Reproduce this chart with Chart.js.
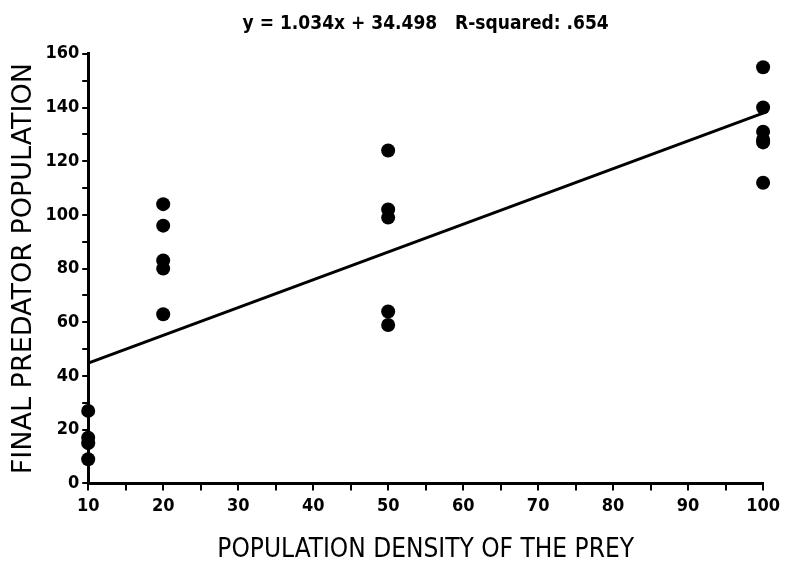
<!DOCTYPE html>
<html>
<head>
<meta charset="utf-8">
<script src="https://cdn.jsdelivr.net/npm/chart.js@4"></script>
<style>
  html, body { margin: 0; padding: 0; background: #fff; }
  #wrap { width: 785px; height: 563px; }
</style>
</head>
<body>
<div id="wrap"><canvas id="predChart" width="785" height="563"></canvas></div>
<script>
// === Data ===
const preyDensity = [10, 10, 10, 10,
                     20, 20, 20, 20, 20,
                     50, 50, 50, 50, 50,
                     100, 100, 100, 100, 100, 100];
const predatorPop = [27, 17, 15, 9,
                     104, 96, 83, 80, 63,
                     124, 102, 99, 64, 59,
                     155, 140, 131, 128, 127, 112];
const fitX = [10, 100];
const fitY = [44.8, 137.9];
const chartTitle = 'y = 1.034x + 34.498   R-squared: .654';
const xTitle = 'POPULATION DENSITY OF THE PREY';
const yTitle = 'FINAL PREDATOR POPULATION';

const pts = preyDensity.map((x, i) => ({ x: x, y: predatorPop[i] }));
const fit = fitX.map((x, i) => ({ x: x, y: fitY[i] }));

const tickFont = { family: 'DejaVu Sans Condensed', size: 18, weight: 'bold' };

const ctx = document.getElementById('predChart').getContext('2d');
const predChart = new Chart(ctx, {
  type: 'scatter',
  data: {
    datasets: [
      {
        label: 'Predators',
        data: pts,
        pointRadius: 7,
        pointBackgroundColor: '#000',
        pointBorderColor: '#000',
        pointBorderWidth: 0,
        clip: false
      },
      {
        type: 'line',
        label: 'Fit',
        data: fit,
        borderColor: '#000',
        borderWidth: 3,
        pointRadius: 0,
        fill: false,
        clip: false
      }
    ]
  },
  options: {
    responsive: false,
    animation: false,
    layout: { padding: { top: 13, right: 0, left: 8, bottom: 0 } },
    plugins: {
      legend: { display: false },
      tooltip: { enabled: false }
    },
    scales: {
      // top axis only carries the title, so it centres over the plot area
      top: {
        type: 'linear',
        position: 'top',
        min: 10,
        max: 100,
        ticks: { display: false },
        grid: { display: false },
        border: { display: false },
        title: {
          display: true,
          text: chartTitle,
          color: '#000',
          font: { family: 'DejaVu Sans Condensed', size: 19, weight: 'bold' },
          padding: { top: 0, bottom: 10 }
        }
      },
      x: {
        type: 'linear',
        min: 10,
        max: 100,
        ticks: {
          stepSize: 5,
          autoSkip: false,
          maxRotation: 0,
          minRotation: 0,
          color: '#000',
          padding: 5,
          font: tickFont,
          callback: v => (v % 10 === 0 ? v : '')
        },
        grid: { display: true, drawOnChartArea: false, drawTicks: true, tickLength: 7, color: '#000', lineWidth: 2 },
        border: { display: true, color: '#000', width: 3 },
        title: {
          display: true,
          text: xTitle,
          color: '#000',
          font: { family: 'DejaVu Sans Condensed', size: 26, lineHeight: 1.0 },
          padding: { top: 15, bottom: 0 }
        }
      },
      y: {
        min: 0,
        max: 160,
        ticks: {
          stepSize: 10,
          autoSkip: false,
          color: '#000',
          padding: 3,
          font: tickFont,
          callback: v => (v % 20 === 0 ? v : '')
        },
        grid: { display: true, drawOnChartArea: false, drawTicks: true, tickLength: 6, color: '#000', lineWidth: 2 },
        border: { display: true, color: '#000', width: 3 },
        title: {
          display: true,
          text: yTitle,
          color: '#000',
          font: { family: 'DejaVu Sans', size: 27 },
          padding: { top: 0, bottom: 2 }
        }
      }
    }
  }
});
</script>
</body>
</html>
